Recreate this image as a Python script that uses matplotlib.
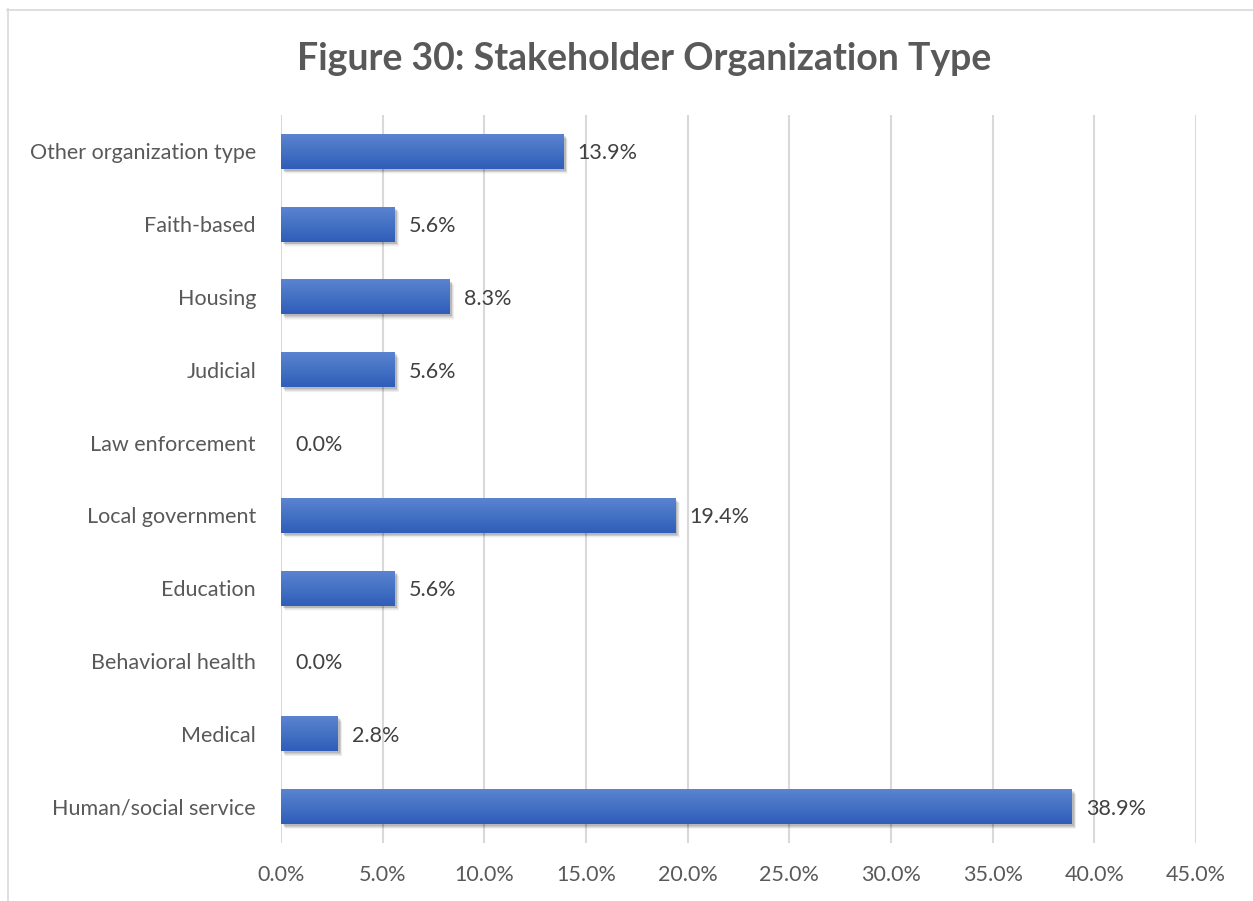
import matplotlib
matplotlib.use("Agg")
import matplotlib.pyplot as plt
import matplotlib.transforms as mtransforms
from matplotlib.patches import Rectangle
from matplotlib.lines import Line2D
from matplotlib.colors import LinearSegmentedColormap
import numpy as np

categories = ["Human/social service", "Medical", "Behavioral health", "Education",
              "Local government", "Law enforcement", "Judicial", "Housing",
              "Faith-based", "Other organization type"]
values = [38.9, 2.8, 0.0, 5.6, 19.4, 0.0, 5.6, 8.3, 5.6, 13.9]
xticks = [0, 5, 10, 15, 20, 25, 30, 35, 40, 45]
title = "Figure 30: Stakeholder Organization Type"

plt.rcParams['font.family'] = ['Lato', 'DejaVu Sans']
W, H = 1253, 901
fig = plt.figure(figsize=(W / 100, H / 100), dpi=100)
ax = fig.add_axes([281 / W, 1 - 843 / H, (1196 - 281) / W, (843 - 115) / H])

y = np.arange(len(categories))
bh = 0.48
bars = ax.barh(y, values, height=bh, color='none', edgecolor='none', zorder=3)

grad = np.linspace(0, 1, 64).reshape(-1, 1)
cmap = LinearSegmentedColormap.from_list('g', ['#5b83d0', '#4472c4', '#2f5db9'])
for b in bars:
    x0, y0, w, h = b.get_x(), b.get_y(), b.get_width(), b.get_height()
    if w <= 0:
        continue
    for i, a in enumerate([0.10, 0.08, 0.06, 0.04, 0.03]):
        off = mtransforms.offset_copy(ax.transData, fig=fig, x=2 + i * 0.6, y=-(2 + i * 0.8), units='dots')
        ax.add_patch(Rectangle((x0, y0), w, h, facecolor='black', alpha=a, edgecolor='none',
                               transform=off, zorder=2))
    ax.imshow(grad, cmap=cmap, aspect='auto', extent=(x0, x0 + w, y0, y0 + h),
              origin='upper', zorder=3, interpolation='bicubic')

fs = 15.5
for yi, v in zip(y, values):
    ax.annotate(f"{v:.1f}%", (v, yi), xytext=(14, 0), textcoords='offset pixels',
                va='center_baseline', ha='left', fontsize=fs, color='#404040')

ax.set_xlim(0, 45)
ax.set_ylim(-0.5, len(categories) - 0.5)
ax.set_xticks(xticks)
ax.set_xticklabels([f"{t:.1f}%" for t in xticks])
ax.set_yticks(y)
ax.set_yticklabels(categories)
ax.tick_params(axis='both', length=0, labelsize=fs, colors='#595959')
ax.tick_params(axis='y', pad=18)
ax.tick_params(axis='x', pad=16)
ax.grid(axis='x', color='#d9d9d9', linewidth=1.5, zorder=0)
ax.set_axisbelow(True)
for s in ax.spines.values():
    s.set_visible(False)
ax.set_facecolor('none')

fig.text(0.514, 1 - 59 / H, title, ha='center', va='center', fontsize=27,
         fontweight='bold', color='#595959')

fig.add_artist(Line2D([7.5 / W, 7.5 / W], [0, 1 - 9 / H], transform=fig.transFigure,
                      color='#d9d9d9', linewidth=1.2))
fig.add_artist(Line2D([7 / W, 1], [1 - 9.5 / H, 1 - 9.5 / H], transform=fig.transFigure,
                      color='#d9d9d9', linewidth=1.2))

fig.savefig("out.png", dpi=100)
